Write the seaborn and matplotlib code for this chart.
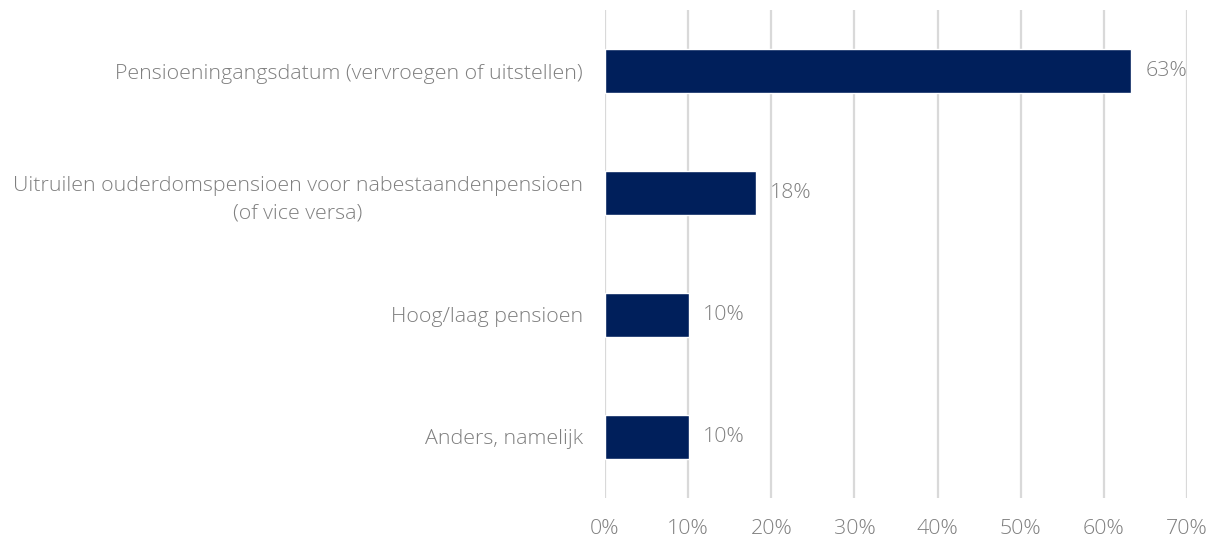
import matplotlib
matplotlib.use("Agg")
import matplotlib.pyplot as plt
import pandas as pd
import seaborn as sns
from matplotlib.ticker import FuncFormatter


# Data
categories = [
    "Pensioeningangsdatum (vervroegen of uitstellen)",
    "Uitruilen ouderdomspensioen voor nabestaandenpensioen\n(of vice versa)",
    "Hoog/laag pensioen",
    "Anders, namelijk",
]
values = [63.3, 18.2, 10.1, 10.1]
value_labels = ["63%", "18%", "10%", "10%"]
x_ticks = [0, 10, 20, 30, 40, 50, 60, 70]

df = pd.DataFrame({"category": categories, "value": values})

# Stijl
sns.set_style("white")
plt.rcParams["font.family"] = ["Open Sans", "DejaVu Sans"]
plt.rcParams["font.weight"] = "light"
text_color = "#7f7f7f"
bar_color = "#001f5b"
grid_color = "#d9d9d9"
font_size = 15.4

fig = plt.figure(figsize=(12.18, 5.41), dpi=100)
ax = fig.add_axes([0.4967, 0.0795, 0.4778, 0.902])

sns.barplot(data=df, x="value", y="category", color=bar_color, width=0.36,
            saturation=1, ax=ax, zorder=3)

ax.set_xlim(0, 70)
ax.set_ylim(3.5, -0.5)
ax.set_xticks(x_ticks)
ax.xaxis.set_major_formatter(FuncFormatter(lambda v, _: f"{v:.0f}%"))
ax.grid(axis="x", color=grid_color, linewidth=1.6, zorder=0)
ax.grid(axis="y", visible=False)
for spine in ax.spines.values():
    spine.set_visible(False)

ax.set_xlabel("")
ax.set_ylabel("")
ax.tick_params(axis="x", length=0, pad=15, labelsize=font_size, labelcolor=text_color)
ax.tick_params(axis="y", length=0, pad=16, labelsize=font_size, labelcolor=text_color)
for label in ax.get_yticklabels() + ax.get_xticklabels():
    label.set_fontweight("light")
for label in ax.get_yticklabels():
    label.set_horizontalalignment("right")
    label.set_multialignment("center")
    label.set_linespacing(1.5)

# Waarden naast de balken
for bar, text in zip(ax.patches, value_labels):
    ax.annotate(text, (bar.get_width(), bar.get_y() + bar.get_height() / 2),
                xytext=(10, 0), textcoords="offset points", va="center",
                ha="left", fontsize=font_size, color=text_color,
                fontweight="light")

plt.savefig("out.png", dpi=100)
plt.close()
